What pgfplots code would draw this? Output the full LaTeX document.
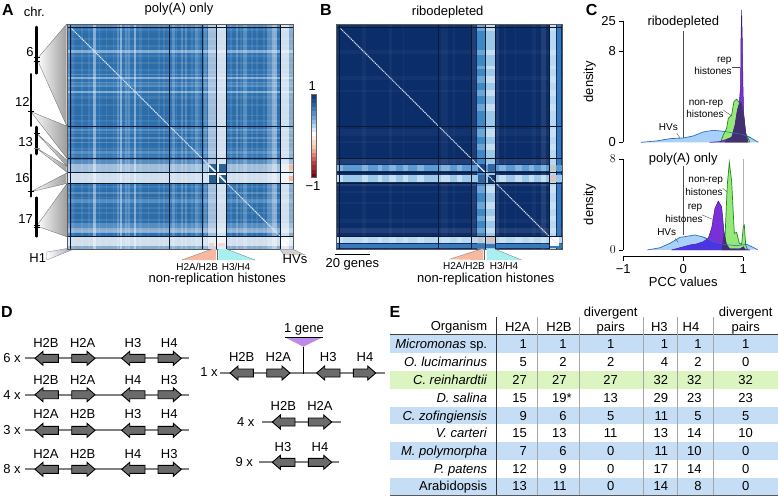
\documentclass[border=0pt]{standalone}
\usepackage{fontspec}
\setmainfont{Liberation Sans}
\usepackage{pgfplots}
\pgfplotsset{compat=1.18}

\definecolor{baseA}{HTML}{3075B5}
\definecolor{baseB}{HTML}{0B2D69}
\definecolor{gridc}{HTML}{0A1A33}
\definecolor{salmon}{HTML}{F8B8A0}
\definecolor{cyanw}{HTML}{A8F0F0}
\definecolor{hvfill}{HTML}{A8D0F8}
\definecolor{hvedge}{HTML}{2A70B8}
\definecolor{grfill}{HTML}{96E878}
\definecolor{gredge}{HTML}{1A8A1A}
\definecolor{pufill}{HTML}{7B2FD8}
\definecolor{puedge}{HTML}{3A1A8A}
\definecolor{ovlap}{HTML}{43306E}
\definecolor{violetb}{HTML}{4A35E0}
\definecolor{tblue}{HTML}{C5DDF5}
\definecolor{tgreen}{HTML}{DCF5C0}
\definecolor{insert}{HTML}{C28AE8}
\definecolor{bone}{HTML}{3F88C6}
\definecolor{bonh}{HTML}{5B9BD0}
\definecolor{btwo}{HTML}{9CC9E8}
\definecolor{bthr}{HTML}{B8D9EF}
\definecolor{bfou}{HTML}{3A78BC}

\newcommand\fa{\fontsize{13}{15}\selectfont}
\newcommand\fb{\fontsize{10}{12}\selectfont}
\newcommand\fc{\fontsize{16}{18}\selectfont\bfseries}
\newcommand\T[3]{\node[font=\fa,inner sep=0pt] at (#1,#2) {#3};}
\newcommand\Ts[3]{\node[font=\fb,inner sep=0pt] at (#1,#2) {#3};}

% stripes of one gene range, down and across
\newcommand\vh[3]{%
  \foreach \a/\b in {#3}{
    \addplot[fill=#1,fill opacity=#2,draw=none] coordinates {(\a,0)(\a,129)(\b,129)(\b,0)};
    \addplot[fill=#1,fill opacity=#2,draw=none] coordinates {(0,\a)(129,\a)(129,\b)(0,\b)};
  }}
\newcommand\rect[6][1]{\addplot[fill=#2,fill opacity=#1,draw=none] coordinates {(#3,#5)(#4,#5)(#4,#6)(#3,#6)};}
\newcommand\vband[3]{\rect{#1}{#2}{#3}{0}{129}}
\newcommand\hband[3]{\rect{#1}{0}{129}{#2}{#3}}
\newcommand\blines{%
  \foreach \l in {2,58.6,77,85.3,91.1,121.6}{
    \addplot[gridc,line width=.8pt] coordinates {(\l,0)(\l,129)};
    \addplot[gridc,line width=.8pt] coordinates {(0,\l)(129,\l)};
  }}

\pgfplotsset{hm/.style={scale only axis,width=226pt,height=225pt,anchor=north west,
  xmin=0,xmax=129,ymin=0,ymax=129,y dir=reverse,ticks=none,axis on top,
  axis line style={draw=black!65,line width=.5pt}},
  dens/.style={scale only axis,width=120pt,anchor=south west,xmin=-1,xmax=1,clip=false,
  axis y line=left,axis x line=none,axis line style={-,line width=.6pt},xtick=\empty,
  tick style={black,line width=.6pt},major tick length=4pt,tick align=outside,
  tick label style={font=\fa},ylabel style={font=\fa},ylabel={density}}}

% gene arrows: tip x, tail x, row y
\newcommand\gene[3]{%
  \pgfmathsetmacro\neck{#1+(#2>#1?8:-8)}
  \draw[fill=black!58,line width=.9pt,line join=miter] (#1,#3) -- (\neck,#3-7) -- (\neck,#3-4) -- (#2,#3-4)
    -- (#2,#3+4) -- (\neck,#3+4) -- (\neck,#3+7) -- cycle;}
\newcommand\genrow[2]{% row y, count
  \draw[black!50,line width=2.2pt] (25,#1) -- (189,#1);
  \gene{35}{58.3}{#1}\gene{95}{71.7}{#1}\gene{121.7}{145}{#1}\gene{181.3}{158}{#1}
  \T{12}{#1}{#2 x}}
\newcommand\labs[5]{\T{46}{#1}{#2}\T{82.7}{#1}{#3}\T{133}{#1}{#4}\T{169.3}{#1}{#5}}

\begin{document}
\begin{tikzpicture}[x=1pt,y=-1pt]
\useasboundingbox (0,0) rectangle (778,496);

% chromosome fans
\tikzset{fan/.style={left color=white,right color=black!38,draw=black!60,line width=.3pt}}
\shade[fan] (37,59) -- (66.7,24) -- (66.7,126) -- cycle;
\shade[fan] (31,111.7) -- (66.7,126) -- (66.7,158) -- cycle;
\shade[fan] (36.7,133.3) -- (66.7,160) -- (66.7,166) -- cycle;
\shade[fan] (36.7,148.3) -- (66.7,166) -- (66.7,172) -- cycle;
\shade[fan] (31,191.7) -- (66.7,173) -- (66.7,183.5) -- cycle;
\shade[fan] (36.7,226) -- (66.7,184) -- (66.7,236.7) -- cycle;
\shade[left color=white,right color=blue!25!black!35,draw=black!50,line width=.3pt] (46.7,252) -- (67,248.5) -- (71.7,250) -- (46.7,260) -- cycle;
\foreach \x/\a/\b in {36.7/26/74.3,31/73.3/126.7,36.7/126/155,31/154/197.3,36.7/196.7/237.3}
  \draw[line width=2.8pt,line cap=round] (\x,\a+1) -- (\x,\b-1);
\foreach \x/\y in {36.7/57.5,36.7/61,31/111.7,36.7/133.3,31/191.7,36.7/225,36.7/227}
  \draw[line width=.8pt] (\x-3,\y) -- (\x+3,\y);
\draw[black!50,line width=.8pt] (33.7,148.3) -- (39.7,148.3);
\T{30}{51.7}{6}\T{22.3}{101.7}{12}\T{25.7}{142.3}{13}\T{22.3}{177.7}{16}\T{25.7}{219}{17}
\T{34.3}{12.3}{chr.}\T{37.7}{258}{H1}
\T{179}{9.5}{poly(A) only}\T{447.7}{11.7}{ribodepleted}
\node[font=\fc,inner sep=0pt] at (8,10) {A};
\node[font=\fc,inner sep=0pt] at (326,10) {B};
\node[font=\fc,inner sep=0pt] at (591.7,10) {C};
\node[font=\fc,inner sep=0pt] at (7,311.7) {D};
\node[font=\fc,inner sep=0pt] at (395,311.7) {E};

% A: poly(A) only
\begin{axis}[hm,at={(67pt,-24pt)}]
\rect{baseA}{0}{129}{0}{129}
\vh{black}{0.03}{5/13,20/27,42/50,50/57,63/70,95/101,104/114}
\vh{white}{0.09}{3/4,8/9,12/13,18/19,22/23,26/27,34/35,41/43,46/47,52/53,55/56,62/63,71/72,75/76,93/94,99/100,105/106,108/109,112/113,118/119}
\vh{white}{0.2}{0/2,28.5/29.5,33/34,35/36,60/61.5,65/66,67.5/68.5,73/74.5,78/80,96.5/97.5,100.5/102.5,114/117}
\vh{white}{0.42}{15/16.4,30.4/31.5,38.4/39.6,117/120,127/129}
\vh{white}{0.55}{80.5/84.8}
\vh{white}{0.78}{85.5/91,122.3/127}
\rect{white}{122.3}{127}{122.3}{127}
\rect{salmon}{126.8}{129}{81}{83.7}
\rect{salmon}{126.8}{129}{87}{90}
\rect[.5]{salmon}{81}{84}{125.5}{127.5}
\rect[.5]{salmon}{86}{90}{125.5}{127.5}
\rect{baseA!85!black}{81}{85.3}{80.5}{84.7}
\rect{baseA!85!black}{86.8}{91.2}{80.5}{84.7}
\rect{baseA!80!black}{81}{85.3}{86.6}{91}
\rect{baseA!80!black}{86.8}{91.2}{86.6}{91}
\addplot[white,line width=1.6pt] coordinates {(81,81)(85,85)};
\addplot[white,line width=1.6pt] coordinates {(87,87)(91,91)};
\addplot[white!85!baseA,line width=1pt,dash pattern=on 1.3pt off .7pt] coordinates {(2,2)(127,127)};
\blines
\end{axis}

% B: ribodepleted
\begin{axis}[hm,at={(336pt,-24pt)}]
\rect{baseB}{0}{129}{0}{129}
\vh{white}{0.035}{0/2,15/17,30/32,38/39,60/64,67/68,96/97,102/103,112/114}
\vh{white}{0.09}{77/80,91/93,117/120}
% histone and HV bands
\vband{bone}{80.2}{85}\vband{btwo}{85.9}{90.8}\vband{bthr}{122.3}{125.5}\vband{bfou}{126.2}{128.3}
\hband{bonh}{80.8}{84.2}\hband{btwo}{86.5}{90.4}\hband{bthr}{122.2}{125.4}\hband{bfou}{126}{128.4}
\foreach \a/\b in {0/4,15/18,24/26,30/34,38/41,46/50,60/65,69/72,93/97,102/106,110/113,117/120}{
  \rect[.25]{white}{\a}{\b}{80.8}{84.2}
  \rect[.4]{white}{\a}{\b}{86.5}{90.4}
  \rect[.25]{white}{\a}{\b}{122.2}{125.4}
  \rect[.25]{white}{80.2}{85}{\a}{\b}
  \rect[.4]{white}{85.9}{90.8}{\a}{\b}
  \rect[.25]{white}{122.3}{125.5}{\a}{\b}
}
\rect{baseB!65!bfou}{81}{85.3}{80.5}{84.7}
\rect{bfou!85!black}{86.8}{91.2}{80.5}{84.7}
\rect{bfou!85!black}{81}{85.3}{86.6}{91}
\rect{baseB!85!bfou}{86.8}{91.2}{86.6}{91}
\rect{black!22}{122.3}{125.5}{81}{84}
\rect{black!22}{81}{84}{122.2}{125.4}
\rect{salmon!70!black!45}{122.3}{125.5}{86.5}{90.4}
\rect{salmon!70!black!45}{86}{90.5}{122.2}{125.4}
\rect{white}{122.3}{127.3}{122.2}{127.3}
\addplot[white,line width=1.2pt] coordinates {(81,81)(85,85)};
\addplot[white!85!baseB,line width=1pt,dash pattern=on 1.3pt off .7pt] coordinates {(2,2)(127,127)};
\blines
\end{axis}

% colour bar
\begin{axis}[scale only axis,at={(310.7pt,-94pt)},anchor=north west,width=5.3pt,height=83pt,
  xmin=0,xmax=1,ymin=-1,ymax=1,ticks=none,axis on top,axis line style={draw=black!60,line width=.4pt},
  colormap={rb}{rgb255(0)=(110,5,25); rgb255(1)=(195,70,70); rgb255(2)=(245,190,170); rgb255(3)=(255,255,255); rgb255(4)=(130,180,220); rgb255(5)=(40,105,170); rgb255(6)=(10,40,100)},
  point meta min=-1,point meta max=1]
\addplot[surf,shader=flat corner,mesh/cols=2,point meta=explicit] table[meta=c] {
x y c
0 -1.0 -1.0
1 -1.0 -1.0
0 -0.9 -0.9
1 -0.9 -0.9
0 -0.8 -0.8
1 -0.8 -0.8
0 -0.7 -0.7
1 -0.7 -0.7
0 -0.6 -0.6
1 -0.6 -0.6
0 -0.5 -0.5
1 -0.5 -0.5
0 -0.4 -0.4
1 -0.4 -0.4
0 -0.3 -0.3
1 -0.3 -0.3
0 -0.2 -0.2
1 -0.2 -0.2
0 -0.1 -0.1
1 -0.1 -0.1
0 0.0 0.0
1 0.0 0.0
0 0.1 0.1
1 0.1 0.1
0 0.2 0.2
1 0.2 0.2
0 0.3 0.3
1 0.3 0.3
0 0.4 0.4
1 0.4 0.4
0 0.5 0.5
1 0.5 0.5
0 0.6 0.6
1 0.6 0.6
0 0.7 0.7
1 0.7 0.7
0 0.8 0.8
1 0.8 0.8
0 0.9 0.9
1 0.9 0.9
0 1.0 1.0
1 1.0 1.0
};
\end{axis}
\T{312.3}{86}{1}\T{313}{185.7}{−1}

% C top: ribodepleted
\begin{axis}[dens,at={(623.3pt,-142.3pt)},height=121.3pt,ymin=0,ymax=10.64,
  ytick={0,8,10.64},yticklabels={0,8,25},ylabel style={at={(axis description cs:-0.2,0.5)}}]
\addplot[black!70,line width=.5pt] coordinates {(0,9.74)(0,0.38)};
\addplot[fill=hvfill,draw=hvedge,line width=.7pt] coordinates {(-0.706,0)(-0.444,0.12)(-0.222,0.32)(0,0.38)(0.167,0.56)(0.333,0.91)(0.5,1.05)(0.667,0.97)(0.833,0.82)(1,0.67)(1.11,0.44)(1.25,0)};
\addplot[fill=grfill,draw=gredge,line width=.7pt] coordinates {(0.622,0)(0.667,0.65)(0.722,1.23)(0.75,2.1)(0.806,2.4)(0.844,3.58)(0.889,3.78)(0.944,3.43)(1,2.55)(1.04,0.8)(1.11,0)};
\addplot[fill=pufill,draw=puedge,line width=.5pt] coordinates {(0.44,0)(0.61,0.06)(0.72,0.26)(0.806,0.44)(0.861,1.5)(0.9,2.8)(0.933,3.4)(0.955,5)(0.961,9)(0.972,11.6)(0.983,9)(0.994,5)(1.006,2.55)(1.04,0.8)(1.08,0)};
\addplot[fill=ovlap,draw=none] coordinates {(0.694,0)(0.72,0.26)(0.806,0.44)(0.861,1.5)(0.9,2.8)(0.933,3.4)(0.967,3.55)(1,2.55)(1.04,0.8)(1.08,0)};
\addplot[hvedge,line width=.6pt] coordinates {(0.667,0.97)(0.833,0.82)(1,0.67)(1.11,0.44)};
\end{axis}
\T{683.3}{21.7}{ribodepleted}
\Ts{724.3}{60.7}{rep}\Ts{713}{71}{histones}\draw[black!70,line width=.4pt] (731.7,66.7) -- (740,66.7);
\Ts{706}{104}{non-rep}\Ts{705}{114.3}{histones}\draw[black!70,line width=.4pt] (723.3,110) -- (731.7,116);
\Ts{668.3}{126.7}{HVs}\draw[black!70,line width=.4pt] (676.7,133.3) -- (680,138);

% C bottom: poly(A) only
\begin{axis}[dens,at={(623.3pt,-250pt)},height=91pt,ymin=0,ymax=8,
  ytick={0,8},ylabel style={at={(axis description cs:-0.2,0.5)}}]
\addplot[black!70,line width=.5pt] coordinates {(0,7.4)(0,1.32)};
\addplot[black!30,line width=1.2pt] coordinates {(1,8)(1,0)};
\addplot[fill=hvfill,draw=hvedge,line width=.7pt] coordinates {(-0.6,0)(-0.389,0.2)(-0.222,0.59)(-0.056,1.11)(0.194,1.32)(0.333,1.14)(0.5,0.73)(0.667,0.5)(0.889,0.38)(1.056,0.5)(1.14,0.29)(1.24,0.03)};
\addplot[fill=grfill,draw=gredge,line width=.7pt] coordinates {(0.639,0)(0.694,1.03)(0.733,5.72)(0.767,7.71)(0.806,6.01)(0.85,1.47)(0.889,1.55)(0.933,0.59)(0.972,0.5)(1,2.05)(1.017,2.2)(1.039,0.44)(1.072,0)};
\addplot[fill=pufill,draw=puedge,line width=.5pt] coordinates {(-0.194,0)(-0.056,0.2)(0.111,0.44)(0.222,0.53)(0.333,0.73)(0.417,1.03)(0.472,1.9)(0.528,3.67)(0.583,4.3)(0.639,3.81)(0.678,1.61)(0.722,0.44)(0.778,0.09)(0.944,0.09)(1,0.29)(1.03,0.06)(1.11,0)};
\addplot[fill=violetb,draw=none] coordinates {(-0.194,0)(-0.056,0.2)(0.111,0.44)(0.222,0.53)(0.333,0.73)(0.4,0.97)(0.5,0.73)(0.667,0.5)(0.7,0.48)(0.722,0.44)(0.778,0.09)(0.944,0.09)(1,0.29)(1.03,0.06)(1.11,0)};
\addplot[fill=ovlap,draw=none] coordinates {(0.639,0)(0.664,1.1)(0.678,1.61)(0.71,0.7)(0.722,0.44)(0.778,0.09)(0.944,0.09)(1,0.29)(1.03,0.06)(1.03,0)};
\addplot[hvedge,line width=.6pt] coordinates {(0.333,1.14)(0.5,0.73)(0.667,0.5)(0.889,0.38)(1.056,0.5)};
\end{axis}
\T{683.3}{159.3}{poly(A) only}
\Ts{705.7}{181}{non-rep}\Ts{704}{191.7}{histones}\draw[black!70,line width=.4pt] (722.7,188.3) -- (726.7,191.7);
\Ts{695}{208.3}{rep}\Ts{684}{218.7}{histones}\draw[black!70,line width=.4pt] (702.3,215) -- (714.3,220);
\Ts{666.7}{231.7}{HVs}\draw[black!70,line width=.4pt] (675,238.3) -- (678.3,242.3);

% C: shared x axis
\begin{axis}[scale only axis,at={(623.3pt,-256.7pt)},anchor=south west,width=120pt,height=1pt,
  xmin=-1,xmax=1,ymin=0,ymax=1,axis x line=bottom,axis y line=none,axis line style={-,line width=.6pt},
  xtick={-1,0,1},xticklabels={−1,0,1},tick style={black,line width=.6pt},major tick length=4pt,tick align=outside,
  tick label style={font=\fa},xlabel={PCC values},xlabel style={font=\fa,yshift=3pt}]
\addplot[draw=none] coordinates {(0,0)};
\end{axis}

% annotations under the heat maps
\tikzset{wedge/.style={draw=black!55,line width=.3pt}}
\fill[salmon] (181.7,260) -- (211.7,249.2) -- (216,249.2) -- (216,260) -- cycle;
\draw[wedge] (181.7,260) -- (211.7,249.2);\draw[black!60,line width=.5pt] (216.8,249.2) -- (216.8,260);
\fill[cyanw] (218.3,249.2) -- (226.7,249.2) -- (255,260) -- (218.3,260) -- cycle;
\draw[wedge] (226.7,249.2) -- (255,260);
\Ts{197.3}{266.7}{H2A/H2B}\Ts{236}{266.7}{H3/H4}\T{217.3}{279.3}{non-replication histones}
\fill[black!18] (280,249.3) -- (293,249.3) -- (305,255) -- (284,255) -- cycle;
\draw[wedge] (280,249.3) -- (284,255);\draw[wedge] (293,249.3) -- (305,255);
\T{295}{259.3}{HVs}
\fill[salmon] (449.3,259.3) -- (480.7,249.2) -- (483.3,249.2) -- (483.3,260) -- cycle;
\draw[wedge] (449.3,259.3) -- (480.7,249.2);\draw[black!60,line width=.5pt] (484.5,249.2) -- (484.5,260);
\fill[cyanw] (486.7,249.2) -- (495,249.2) -- (521.7,260) -- (486.7,260) -- cycle;
\draw[wedge] (495,249.2) -- (521.7,260);
\Ts{464}{265.5}{H2A/H2B}\Ts{504}{265.5}{H3/H4}\T{485.7}{279.3}{non-replication histones}
\draw[line width=.9pt] (335,254) -- (370,254);
\T{352.3}{264.3}{20 genes}

% D: histone gene clusters
\labs{342.7}{H2B}{H2A}{H3}{H4}\genrow{358.3}{6}
\labs{379.7}{H2B}{H2A}{H4}{H3}\genrow{394.7}{4}
\labs{414.3}{H2A}{H2B}{H3}{H4}\genrow{430.3}{3}
\labs{454}{H2A}{H2B}{H4}{H3}\genrow{469.3}{8}
\draw[black!50,line width=2.2pt] (220,373) -- (385,373);
\gene{230}{253.3}{373}\gene{290}{266.7}{373}\gene{316.7}{340}{373}\gene{375.7}{353.3}{373}
\draw[line width=.9pt] (303.3,346.7) -- (303.3,374);
\fill[insert] (285,337.3) -- (322.7,337.3) -- (303.3,346.7) -- cycle;
\draw[line width=.9pt] (285,337.3) -- (322.7,337.3);
\T{304}{329}{1 gene}
\T{241.7}{357}{H2B}\T{278.3}{357}{H2A}\T{328.3}{357}{H3}\T{365}{357}{H4}\T{209}{371.7}{1 x}
\draw[black!50,line width=2.2pt] (261.7,422) -- (341,422);
\gene{272.3}{295}{422}\gene{331.7}{308.3}{422}
\T{283.3}{406}{H2B}\T{320}{406}{H2A}\T{245.7}{421.7}{4 x}
\draw[black!50,line width=2.2pt] (259.3,462.3) -- (339.3,462.3);
\gene{272.3}{295}{462.3}\gene{331.7}{308.3}{462.3}
\T{283}{446.7}{H3}\T{320}{446.7}{H4}\T{244.3}{462}{9 x}

% E: table of gene counts
\fill[tblue] (390,335.4) rectangle (778,353.2);
\fill[tgreen] (390,371) rectangle (778,388.8);
\fill[tblue] (390,406.6) rectangle (778,424.4);
\fill[tblue] (390,442.2) rectangle (778,460);
\fill[tblue] (390,477.8) rectangle (778,495);
\draw[black!75,line width=.7pt] (390,334.6) -- (778,334.6);
\draw[black!65,line width=.7pt] (390,495.2) -- (778,495.2);
\draw[black!80,line width=.7pt] (496.5,317) -- (496.5,495.2);
\foreach \x in {537.5,579.5,643,677.5,713}
  \draw[black!35,line width=.7pt] (\x,317) -- (\x,495.2);
\node[font=\fa,inner sep=0pt,anchor=base east] at (487.3,330.5) {Organism};
\foreach \x/\s in {517.7/H2A,559/H2B,659.3/H3,691/H4,610.7/pairs,745.7/pairs}
  \node[font=\fa,inner sep=0pt,anchor=base] at (\x,331) {\s};
\foreach \x in {610.7,745.7}
  \node[font=\fa,inner sep=0pt,anchor=base] at (\x,316) {divergent};
\foreach \y/\n/\a/\b/\c/\d/\e/\f in {
  348.9/\textit{Micromonas} sp./1/1/1/1/1/1,
  366.6/\textit{O. lucimarinus}/5/2/2/4/2/0,
  384.5/\textit{C. reinhardtii}/27/27/27/32/32/32,
  402.4/\textit{D. salina}/15/19\rlap{*}/13/29/23/23,
  420.2/\textit{C. zofingiensis}/9/6/5/11/5/5,
  437.8/\textit{V. carteri}/15/13/11/13/14/10,
  455.5/\textit{M. polymorpha}/7/6/0/11/10/0,
  473.5/\textit{P. patens}/12/9/0/17/14/0,
  490.8/Arabidopsis/13/11/0/14/8/0}{
  \node[font=\fa,inner sep=0pt,anchor=base east] at (487.3,\y) {\n};
  \node[font=\fa,inner sep=0pt,anchor=base east] at (527,\y) {\a};
  \node[font=\fa,inner sep=0pt,anchor=base east] at (566.7,\y) {\b};
  \node[font=\fa,inner sep=0pt,anchor=base] at (610.7,\y) {\c};
  \node[font=\fa,inner sep=0pt,anchor=base east] at (668.3,\y) {\d};
  \node[font=\fa,inner sep=0pt,anchor=base east] at (701.7,\y) {\e};
  \node[font=\fa,inner sep=0pt,anchor=base] at (745.7,\y) {\f};
}
\end{tikzpicture}
\end{document}
